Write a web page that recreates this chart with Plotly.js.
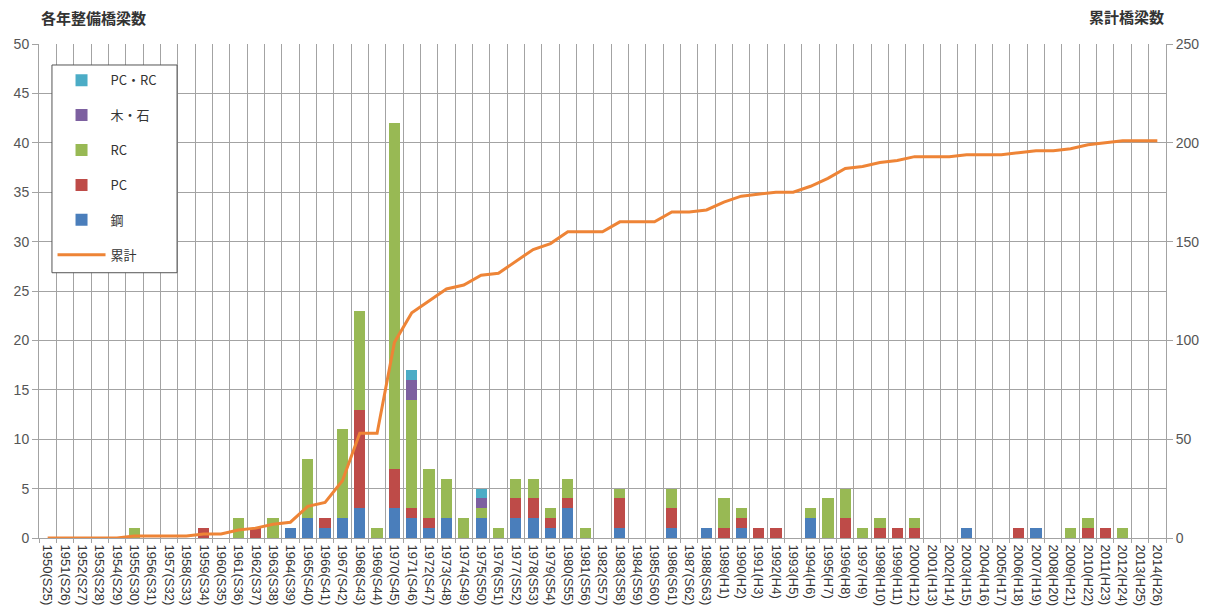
<!DOCTYPE html>
<html>
<head>
<meta charset="utf-8">
<script src="https://cdn.plot.ly/plotly-3.0.1.min.js"></script>
<style>
  html, body { margin: 0; padding: 0; background: #ffffff; }
  #chart { width: 1207px; height: 609px; }
</style>
</head>
<body>
<div id="chart"></div>
<script>
// 年度ラベル（西暦と和暦）
const yearLabels = [
  "1950(S25)", "1951(S26)", "1952(S27)", "1953(S28)", "1954(S29)",
  "1955(S30)", "1956(S31)", "1957(S32)", "1958(S33)", "1959(S34)",
  "1960(S35)", "1961(S36)", "1962(S37)", "1963(S38)", "1964(S39)",
  "1965(S40)", "1966(S41)", "1967(S42)", "1968(S43)", "1969(S44)",
  "1970(S45)", "1971(S46)", "1972(S47)", "1973(S48)", "1974(S49)",
  "1975(S50)", "1976(S51)", "1977(S52)", "1978(S53)", "1979(S54)",
  "1980(S55)", "1981(S56)", "1982(S57)", "1983(S58)", "1984(S59)",
  "1985(S60)", "1986(S61)", "1987(S62)", "1988(S63)", "1989(H1)",
  "1990(H2)", "1991(H3)", "1992(H4)", "1993(H5)", "1994(H6)",
  "1995(H7)", "1996(H8)", "1997(H9)", "1998(H10)", "1999(H11)",
  "2000(H12)", "2001(H13)", "2002(H14)", "2003(H15)", "2004(H16)",
  "2005(H17)", "2006(H18)", "2007(H19)", "2008(H20)", "2009(H21)",
  "2010(H22)", "2011(H23)", "2012(H24)", "2013(H25)", "2014(H26)"
];

// 各年の整備橋梁数（構造形式別）
const steel = [
  0,0,0,0,0, 0,0,0,0,0, 0,0,0,0,1, 2,1,2,3,0, 3,2,1,2,0,
  2,0,2,2,1, 3,0,0,1,0, 0,1,0,1,0, 1,0,0,0,2, 0,0,0,0,0,
  0,0,0,1,0, 0,0,1,0,0, 0,0,0,0,0
];
const pc = [
  0,0,0,0,0, 0,0,0,0,1, 0,0,1,0,0, 0,1,0,10,0, 4,1,1,0,0,
  0,0,2,2,1, 1,0,0,3,0, 0,2,0,0,1, 1,1,1,0,0, 0,2,0,1,1,
  1,0,0,0,0, 0,1,0,0,0, 1,1,0,0,0
];
const rc = [
  0,0,0,0,0, 1,0,0,0,0, 0,2,0,2,0, 6,0,9,10,1, 35,11,5,4,2,
  1,1,2,2,1, 2,1,0,1,0, 0,2,0,0,3, 1,0,0,0,1, 4,3,1,1,0,
  1,0,0,0,0, 0,0,0,0,1, 1,0,1,0,0
];
const woodStone = [
  0,0,0,0,0, 0,0,0,0,0, 0,0,0,0,0, 0,0,0,0,0, 0,2,0,0,0,
  1,0,0,0,0, 0,0,0,0,0, 0,0,0,0,0, 0,0,0,0,0, 0,0,0,0,0,
  0,0,0,0,0, 0,0,0,0,0, 0,0,0,0,0
];
const pcRc = [
  0,0,0,0,0, 0,0,0,0,0, 0,0,0,0,0, 0,0,0,0,0, 0,1,0,0,0,
  1,0,0,0,0, 0,0,0,0,0, 0,0,0,0,0, 0,0,0,0,0, 0,0,0,0,0,
  0,0,0,0,0, 0,0,0,0,0, 0,0,0,0,0
];

// 累計橋梁数
const cumulative = [
  0,0,0,0,0, 1,1,1,1,2, 2,4,5,7,8, 16,18,29,53,53,
  99,114,120,126,128, 133,134,140,146,149, 155,155,155,160,160,
  160,165,165,166,170, 173,174,175,175,178, 182,187,188,190,191,
  193,193,193,194,194, 194,195,196,196,197, 199,200,201,201,201
];

const jpFont = '"Noto Sans CJK JP", "Liberation Sans", sans-serif';
const numFont = '"Liberation Sans", Arial, sans-serif';
const gridGray = '#a3a3a3';

function barTrace(name, values, color, rank) {
  return {
    type: 'bar',
    name: name,
    x: yearLabels,
    y: values,
    marker: { color: color, line: { width: 0 } },
    legendgroup: name,
    legendrank: rank,
    hoverinfo: 'x+y+name'
  };
}

const traces = [
  barTrace('鋼', steel, '#4a7ebb', 5),
  barTrace('PC', pc, '#be4b48', 4),
  barTrace('RC', rc, '#98b954', 3),
  barTrace('木・石', woodStone, '#7d60a0', 2),
  barTrace('PC・RC', pcRc, '#4bacc6', 1),
  {
    type: 'scatter',
    mode: 'lines',
    name: '累計',
    x: yearLabels,
    y: cumulative,
    yaxis: 'y2',
    line: { color: '#ee8436', width: 3 },
    legendgroup: '累計',
    legendrank: 6
  }
];

// 凡例の枠（凡例本体より少し広めに取る）
const legendFrame = {
  type: 'rect',
  xref: 'paper', yref: 'paper',
  x0: 0.0115, x1: 0.1225,
  y0: 0.537, y1: 0.9575,
  layer: 'above',
  fillcolor: '#ffffff',
  line: { color: '#555555', width: 1 }
};

const layout = {
  width: 1207,
  height: 609,
  margin: { l: 39, r: 41, t: 44, b: 71, pad: 0 },
  paper_bgcolor: '#ffffff',
  plot_bgcolor: '#ffffff',
  barmode: 'stack',
  bargap: 0.35,
  showlegend: true,
  font: { family: numFont, size: 13, color: '#404040' },
  xaxis: {
    type: 'category',
    tickson: 'boundaries',
    showgrid: true,
    gridcolor: gridGray,
    gridwidth: 1,
    showline: true,
    linecolor: gridGray,
    ticks: 'outside',
    ticklen: 4,
    tickcolor: gridGray,
    tickangle: 90,
    ticklabelstandoff: 3,
    tickfont: { family: numFont, size: 13, color: '#333333' },
    automargin: false,
    fixedrange: true
  },
  yaxis: {
    range: [0, 50],
    dtick: 5,
    showgrid: true,
    gridcolor: gridGray,
    gridwidth: 1,
    zeroline: false,
    showline: true,
    linecolor: gridGray,
    ticks: 'outside',
    ticklen: 6,
    tickcolor: gridGray,
    tickfont: { family: numFont, size: 14, color: '#555555' },
    automargin: false,
    fixedrange: true
  },
  yaxis2: {
    overlaying: 'y',
    side: 'right',
    range: [0, 250],
    dtick: 50,
    showgrid: false,
    zeroline: false,
    showline: true,
    linecolor: gridGray,
    ticks: 'outside',
    ticklen: 6,
    tickcolor: gridGray,
    tickfont: { family: numFont, size: 14, color: '#555555' },
    automargin: false,
    fixedrange: true
  },
  legend: {
    x: 0.012,
    y: 0.957,
    xanchor: 'left',
    yanchor: 'top',
    bgcolor: 'rgba(255,255,255,0)',
    borderwidth: 0,
    font: { family: jpFont, size: 13, color: '#333333' },
    tracegroupgap: 15,
    itemwidth: 48
  },
  shapes: [legendFrame],
  annotations: [
    {
      text: '<b>各年整備橋梁数</b>',
      xref: 'paper', yref: 'paper',
      x: 0, y: 1.053,
      xanchor: 'left', yanchor: 'middle',
      showarrow: false,
      font: { family: jpFont, size: 15, color: '#333333' }
    },
    {
      text: '<b>累計橋梁数</b>',
      xref: 'paper', yref: 'paper',
      x: 1, y: 1.055,
      xanchor: 'right', yanchor: 'middle',
      showarrow: false,
      font: { family: jpFont, size: 15, color: '#333333' }
    }
  ]
};

Plotly.newPlot('chart', traces, layout, { displayModeBar: false, staticPlot: true });
</script>
</body>
</html>
